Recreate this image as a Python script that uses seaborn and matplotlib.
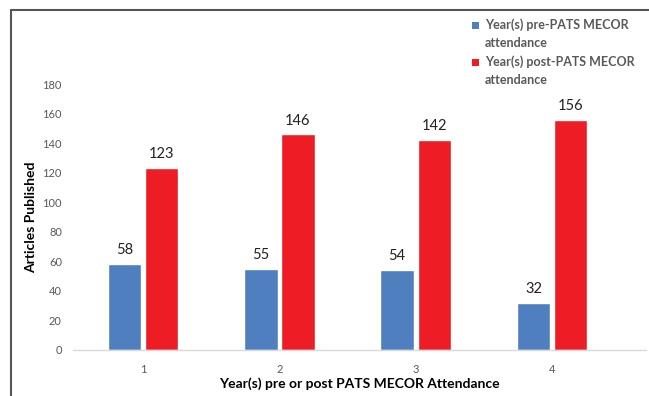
import matplotlib
matplotlib.use("Agg")
import matplotlib.pyplot as plt
import seaborn as sns
import pandas as pd
from matplotlib.lines import Line2D
from matplotlib.patches import Rectangle

years = ["1", "2", "3", "4"]
pre_values = [58, 55, 54, 32]
post_values = [123, 146, 142, 156]
series_names = ["Year(s) pre-PATS MECOR\nattendance", "Year(s) post-PATS MECOR\nattendance"]
y_ticks = [0, 20, 40, 60, 80, 100, 120, 140, 160, 180]

df = pd.DataFrame({
    "year": years * 2,
    "value": pre_values + post_values,
    "series": [series_names[0]] * 4 + [series_names[1]] * 4,
})

sns.set_style("white")
plt.rcParams["font.family"] = ["Lato", "DejaVu Sans"]

W, H = 649, 396
fig = plt.figure(figsize=(6.49, 3.96), dpi=100)
ax = fig.add_axes([73/W, 1 - 350/H, (646 - 73)/W, (350 - 84.3)/H])

palette = ["#4F7FBE", "#EE1C24"]
sns.barplot(data=df, x="year", y="value", hue="series", palette=palette,
            width=0.544, gap=0.1, ax=ax, saturation=1, legend=False)

for c in ax.containers:
    ax.bar_label(c, padding=5, fontsize=10.5, color="#222222")

ax.set_ylim(0, 180)
ax.set_xlim(-0.515, 3.69)
ax.set_yticks(y_ticks)
ax.tick_params(axis="both", length=0, labelsize=8, colors="#595959", pad=8)
ax.tick_params(axis="x", pad=10)
for s in ["top", "right", "left"]:
    ax.spines[s].set_visible(False)
ax.spines["bottom"].set_color("#D9D9D9")
ax.spines["bottom"].set_linewidth(1)

ax.set_ylabel("Articles Published", fontsize=10, fontweight="bold", color="#000000", labelpad=4)
ax.set_xlabel("Year(s) pre or post PATS MECOR Attendance", fontsize=10, fontweight="bold",
              color="#000000", labelpad=2)

# legend drawn manually so the marker aligns with the first text line
entry_y = [25, 62]
for name, col, yy in zip(series_names, palette, entry_y):
    fig.add_artist(Rectangle(((475 - 3.5)/W, 1 - (yy + 3.5)/H), 7/W, 7/H,
                             transform=fig.transFigure, facecolor=col, edgecolor="none"))
    for i, line in enumerate(name.split("\n")):
        fig.text(485/W, 1 - (yy + 18*i)/H, line, fontsize=9, fontweight="bold",
                 color="#595959", va="center", ha="left")

# figure border (left and top)
fig.add_artist(Line2D([11/W, 11/W], [0, 1 - 10/H], transform=fig.transFigure,
                      color="#555555", lw=1.5))
fig.add_artist(Line2D([11/W, 1], [1 - 10/H, 1 - 10/H], transform=fig.transFigure,
                      color="#555555", lw=1.5))

fig.savefig("out.png", dpi=100)
